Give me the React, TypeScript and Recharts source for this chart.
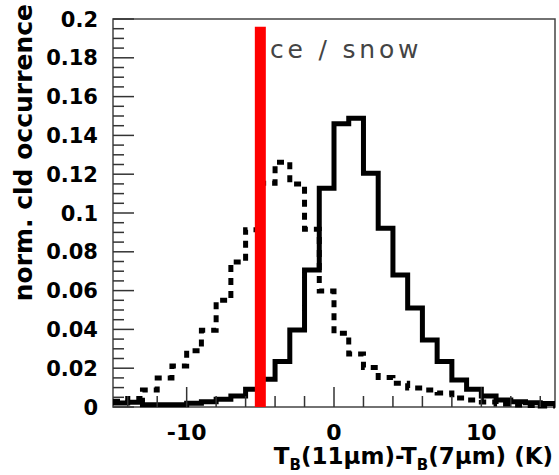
import React from 'react';
import { LineChart, Line, XAxis, YAxis, ReferenceLine, ReferenceArea } from 'recharts';

// bin edges of the histograms (1 K wide bins)
const binEdges = [
  -15, -14, -13, -12, -11, -10, -9, -8, -7, -6, -5, -4, -3, -2, -1, 0,
  1, 2, 3, 4, 5, 6, 7, 8, 9, 10, 11, 12, 13, 14, 15,
];

// solid histogram, one value per bin
const solidValues = [
  0.002, 0.0025, 0.0012, 0.0012, 0.0012, 0.0019, 0.0027, 0.004, 0.0057, 0.0091,
  0.0143, 0.0234, 0.0397, 0.0706, 0.1127, 0.146, 0.1488, 0.1205, 0.0921, 0.068,
  0.051, 0.0345, 0.0234, 0.0139, 0.0092, 0.0057, 0.0036, 0.0027, 0.0022, 0.0018,
];

// dashed histogram, one value per bin
const dashedValues = [
  0.003, 0.0044, 0.0088, 0.015, 0.0211, 0.029, 0.0395, 0.055, 0.0748, 0.0914,
  0.1153, 0.1262, 0.1149, 0.0916, 0.0598, 0.038, 0.0273, 0.0204, 0.0152, 0.0122,
  0.0098, 0.0088, 0.0072, 0.0046, 0.0036, 0.0026, 0.0015, 0.001, 0.0008, 0.0005,
];

const threshold = -5;
const thresholdTop = 0.196;

const xTicks = [-14, -12, -10, -8, -6, -4, -2, 0, 2, 4, 6, 8, 10, 12, 14];
const xTickLabels = [-10, 0, 10];

const yTicks = [
  0, 0.005, 0.01, 0.015, 0.02, 0.025, 0.03, 0.035, 0.04, 0.045, 0.05, 0.055, 0.06,
  0.065, 0.07, 0.075, 0.08, 0.085, 0.09, 0.095, 0.1, 0.105, 0.11, 0.115, 0.12,
  0.125, 0.13, 0.135, 0.14, 0.145, 0.15, 0.155, 0.16, 0.165, 0.17, 0.175, 0.18,
  0.185, 0.19, 0.195, 0.2,
];
const yTickLabels = [0, 0.02, 0.04, 0.06, 0.08, 0.1, 0.12, 0.14, 0.16, 0.18, 0.2];

const data = binEdges.map((x, i) => ({
  x,
  solid: solidValues[Math.min(i, solidValues.length - 1)],
  dashed: dashedValues[Math.min(i, dashedValues.length - 1)],
}));

const FONT = '"DejaVu Sans", sans-serif';

const isIn = (list: number[], v: number) => list.some((l) => Math.abs(l - v) < 1e-9);

const YTick = (props: any) => {
  const { x, y, payload } = props;
  const v = payload.value;
  const major = isIn(yTickLabels, v);
  return (
    <g>
      <line x1={x} x2={x + (major ? 21 : 11)} y1={y} y2={y} stroke="#333" strokeWidth={1.5} />
      {major && (
        <text x={x - 15} y={y} dy="0.36em" textAnchor="end" fontFamily={FONT} fontWeight="bold" fontSize={21} fill="#000">
          {String(+v.toFixed(2))}
        </text>
      )}
    </g>
  );
};

const XTick = (props: any) => {
  const { x, y, payload } = props;
  const v = payload.value;
  const major = isIn(xTickLabels, v);
  return (
    <g>
      <line x1={x} x2={x} y1={y} y2={y - (major ? 20 : 11)} stroke="#333" strokeWidth={1.5} />
      {major && (
        <text x={x} y={y + 33} textAnchor="middle" fontFamily={FONT} fontWeight="bold" fontSize={22} fill="#000">
          {v}
        </text>
      )}
    </g>
  );
};

const XTitle = (props: any) => {
  const { viewBox } = props;
  const right = viewBox.x + viewBox.width - 2;
  return (
    <text x={right} y={viewBox.y + 57} textAnchor="end" fontFamily={FONT} fontWeight="bold" fontSize={23} fill="#000">
      T<tspan fontSize={15} dy={6}>B</tspan>
      <tspan dy={-6}>(11μm)-T</tspan>
      <tspan fontSize={15} dy={6}>B</tspan>
      <tspan dy={-6}>(7μm) (K)</tspan>
    </text>
  );
};

const YTitle = () => (
  <text
    transform="translate(32, 4) rotate(-90)"
    textAnchor="end"
    fontFamily={FONT}
    fontWeight="bold"
    fontSize={25}
    fill="#000"
  >
    norm. cld occurrence
  </text>
);

export default function App() {
  return (
    <div style={{ position: 'absolute', left: 0, top: 0, background: '#fff' }}>
      <LineChart width={559} height={475} data={data} margin={{ top: 19, right: 4, bottom: 0, left: 0 }}>
        <XAxis
          dataKey="x"
          type="number"
          domain={[-15, 15]}
          ticks={xTicks}
          interval={0}
          axisLine={false}
          tickLine={false}
          tickSize={0}
          tickMargin={0}
          height={68}
          tick={<XTick />}
          label={<XTitle />}
        />
        <YAxis
          type="number"
          domain={[0, 0.2]}
          ticks={yTicks}
          interval={0}
          axisLine={false}
          tickLine={false}
          tickSize={0}
          tickMargin={0}
          width={113}
          tick={<YTick />}
        />
        <ReferenceArea x1={-15} x2={15} y1={0} y2={0.2} fill="none" stroke="#444" strokeWidth={1.5} />
        <Line
          type="stepAfter"
          dataKey="dashed"
          stroke="#000"
          strokeWidth={5}
          strokeDasharray="7 6"
          dot={false}
          activeDot={false}
          isAnimationActive={false}
        />
        <Line
          type="stepAfter"
          dataKey="solid"
          stroke="#000"
          strokeWidth={5}
          dot={false}
          activeDot={false}
          isAnimationActive={false}
        />
        <ReferenceLine
          segment={[
            { x: threshold, y: 0 },
            { x: threshold, y: thresholdTop },
          ]}
          stroke="#ff0000"
          strokeWidth={11}
        />
        <text x={270} y={58} fontFamily={FONT} fontSize={25} letterSpacing={3.8} fill="#444">
          ce / snow
        </text>
        <YTitle />
      </LineChart>
    </div>
  );
}
